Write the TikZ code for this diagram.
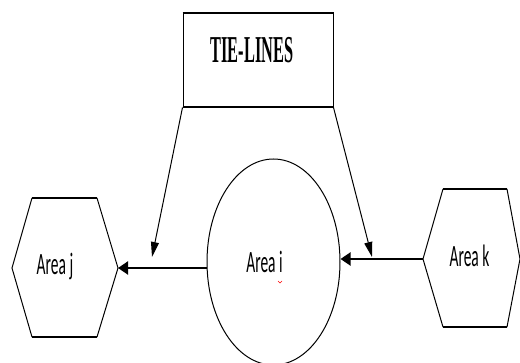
\documentclass[tikz,border=0pt]{standalone}
\usepackage{fontspec}
\setmainfont{Carlito}
\newfontfamily\tiefont{Liberation Serif}
\usetikzlibrary{shapes.geometric,arrows.meta}
\begin{document}
\begin{tikzpicture}[x=1pt,y=-1pt,
  outline/.style={draw=black,line width=1pt},
  thickedge/.style={draw=black,line width=2pt},
  flow/.style={draw=black,line width=2pt,-{Triangle[length=10pt,width=13pt]}},
  tie/.style={draw=black,line width=1pt,-{Triangle[length=15pt,width=8pt]}},
  lbl/.style={inner sep=0pt,anchor=base,font=\fontsize{31}{31}\selectfont},
  tielbl/.style={inner sep=0pt,anchor=base,font=\tiefont\bfseries\fontsize{38}{38}\selectfont}]
\useasboundingbox (0,0) rectangle (520,363);
% TIE-LINES box
\node[outline,minimum width=150pt,minimum height=93pt,inner sep=0pt] (box) at (258,60.5) {};
\draw[thickedge] (box.north west) -- (box.north east);
\draw[thickedge] (box.south west) -- (box.south east);
\node[tielbl] (tietext) at (252,63) {\scalebox{0.43}[1]{TIE-LINES}};
% Area i ellipse
\node[ellipse,outline,minimum width=133pt,minimum height=206pt,inner sep=0pt] (i) at (273.5,262) {};
\node[lbl] (itext) at (264.5,273) {\scalebox{0.5}[1]{Area i}};
\draw[red,line width=0.6pt] (278,281) -- (280,283) -- (282,281);
% Area j hexagon
\coordinate (jW) at (12,268);
\coordinate (jTL) at (32,198);
\coordinate (jTR) at (97,198);
\coordinate (jE) at (118,268);
\coordinate (jBR) at (97,337);
\coordinate (jBL) at (32,337);
\draw[outline] (jTL) -- (jW) -- (jBL);
\draw[outline] (jTR) -- (jE) -- (jBR);
\draw[thickedge] (jTL) -- (jTR);
\draw[thickedge] (jBL) -- (jBR);
\node[lbl] (jtext) at (55,275) {\scalebox{0.5}[1]{Area j}};
% Area k hexagon
\coordinate (kW) at (423,259);
\coordinate (kTL) at (443,189);
\coordinate (kTR) at (507,189);
\coordinate (kE) at (520,259);
\coordinate (kBR) at (507,327);
\coordinate (kBL) at (443,327);
\draw[outline] (kTL) -- (kW) -- (kBL);
\draw[outline] (kTR) -- (kE) -- (kBR);
\draw[thickedge] (kTL) -- (kTR);
\draw[thickedge] (kBL) -- (kBR);
\node[lbl] (ktext) at (469.5,267) {\scalebox{0.5}[1]{Area k}};
% flows
\draw[flow] (i.west |- jE) -- (jE);
\draw[flow] (kW) -- (i.east |- kW);
% tie-line arrows
\coordinate (tj) at (152,257);
\coordinate (tk) at (372,257);
\draw[tie] (box.south west) -- (tj);
\draw[tie] (box.south east) -- (tk);
\end{tikzpicture}
\end{document}
